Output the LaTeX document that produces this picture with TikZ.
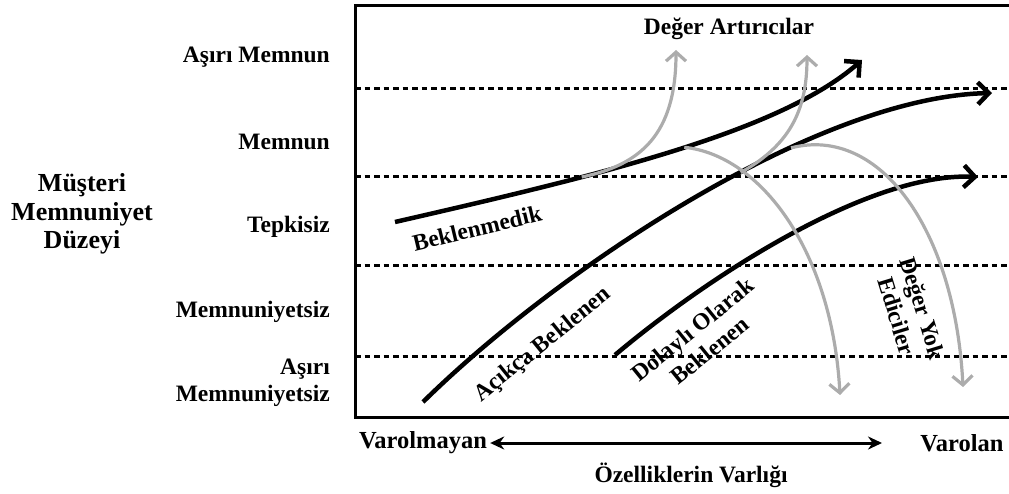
\documentclass[tikz,border=0pt]{standalone}
\usepackage{fontspec}
\setmainfont{Liberation Serif}
\usetikzlibrary{arrows.meta}

\begin{document}
\begin{tikzpicture}[x=1pt, y=-1pt,
			txt/.style={font=\fontsize{23.5}{27}\selectfont\bfseries, align=center, inner sep=0pt},
			frame/.style={line width=3pt},
			level/.style={line width=3pt, dash pattern=on 5.5pt off 4pt},
			curve/.style={line width=4.5pt, -{Straight Barb[length=11pt, width=22pt]}},
			grey/.style={line width=3.2pt, draw=gray!65, -{Straight Barb[length=9pt, width=20pt]}},
			arrow/.style={{Stealth[length=14pt, width=13pt]}-{Stealth[length=14pt, width=13pt]}, line width=3pt}]
			
			\useasboundingbox (0,0) rectangle (1009,494);
			
			% çerçeve ve düzeyler
			\draw[frame] (1009,6) -- (355,6) -- (355,417) -- (1009,417);
			\foreach \y in {89,177,266,356}
				\draw[level] (355,\y) -- (1009,\y);
			
			% düzey etiketleri
			\node[txt, anchor=east] (lvl1) at (330,57) {Aşırı Memnun};
			\node[txt, anchor=east] (lvl2) at (330,142) {Memnun};
			\node[txt, anchor=east] (lvl3) at (330,227) {Tepkisiz};
			\node[txt, anchor=east] (lvl4) at (330,312) {Memnuniyetsiz};
			\node[txt, anchor=east, align=right] (lvl5) at (330,383) {Aşırı\\Memnuniyetsiz};
			\node[txt, font=\fontsize{26}{28.5}\selectfont\bfseries] (yaxis) at (82,214) {Müşteri\\Memnuniyet\\Düzeyi};
			
			% eksen
			\node[txt, font=\fontsize{24.5}{27}\selectfont\bfseries] (none) at (423,443) {Varolmayan};
			\node[txt, font=\fontsize{24.5}{27}\selectfont\bfseries] (exist) at (962,443) {Varolan};
			\coordinate (arrend) at (882,443);
			\draw[arrow] ([xshift=3pt]none.east) -- (arrend);
			\node[txt] (feat) at (691,475) {Özelliklerin Varlığı};
			\node[txt] (adders) at (729,29) {Değer Artırıcılar};
			
			% eğriler
			\coordinate (b0) at (395,222);
			\coordinate (b3) at (862,60);
			\coordinate (a0) at (423,402);
			\coordinate (a3) at (992,93);
			\coordinate (d0) at (615,355);
			\coordinate (d3) at (978,177);
			\draw[curve] (b0) .. controls (600,175) and (780,132) .. (b3)
				coordinate[pos=0.32] (g1) coordinate[pos=0.52] (g2);
			\draw[curve] (a0) .. controls (555,272) and (815,97) .. (a3)
				coordinate[pos=0.58] (g3) coordinate[pos=0.66] (g4);
			\draw[curve] (d0) .. controls (710,275) and (870,172) .. (d3);
			
			% gri oklar
			\coordinate (up1) at (676,50);
			\coordinate (up2) at (807,55);
			\coordinate (dn1) at (840,395);
			\coordinate (dn2) at (963,387);
			\draw[grey] (g1) .. controls (640,165) and (676,135) .. (up1);
			\draw[grey] (g3) .. controls (790,145) and (807,110) .. (up2);
			\draw[grey] (g2) .. controls (760,155) and (832,250) .. (dn1);
			\draw[grey] (g4) .. controls (880,125) and (955,230) .. (dn2);
			
			% eğri etiketleri
			\node[txt, rotate=13.5] (unexp) at (477,228) {Beklenmedik};
			\node[txt, rotate=39] (expl) at (543,345) {Açıkça Beklenen};
			\node[txt, rotate=39] (impl) at (701,340) {Dolaylı Olarak\\Beklenen};
			\node[txt, rotate=-73] (killers) at (910,312) {Değer Yok\\Ediciler};
			
		\end{tikzpicture}
\end{document}
